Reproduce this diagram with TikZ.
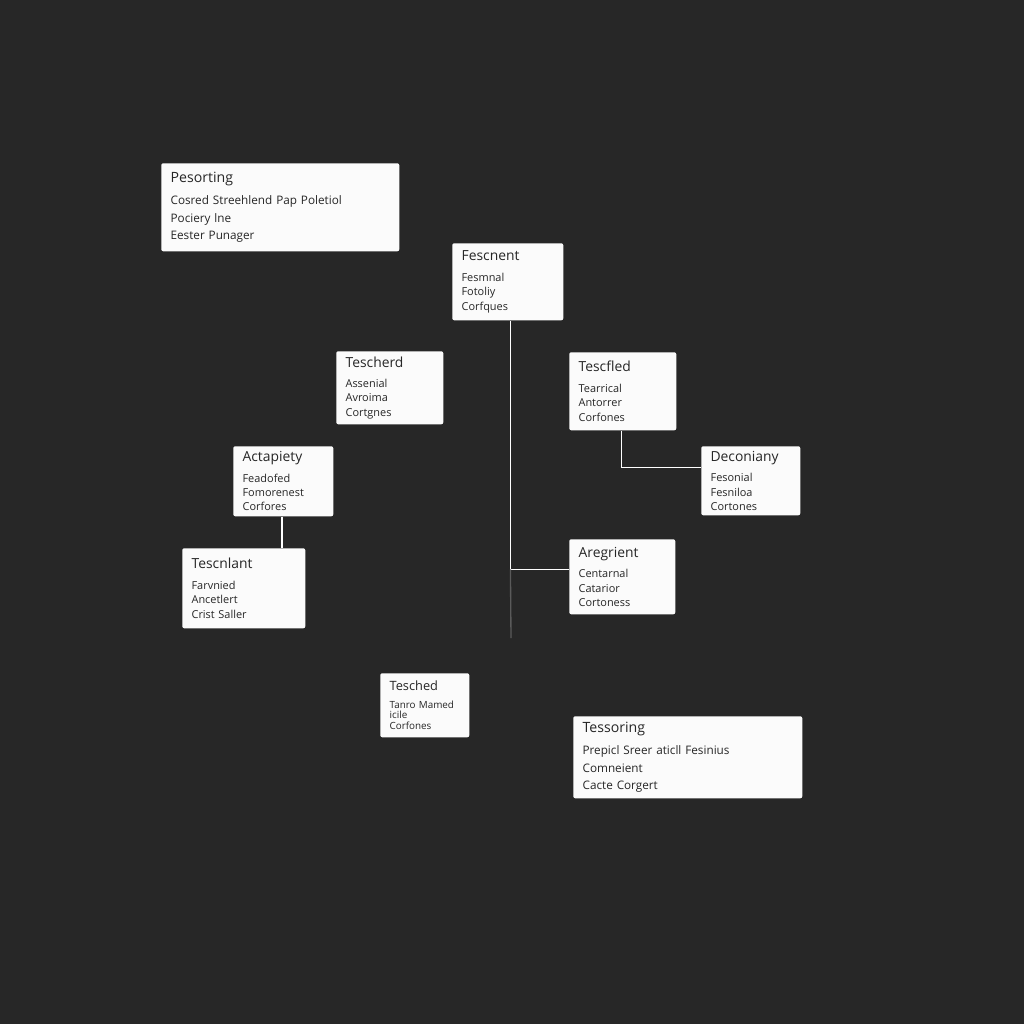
\documentclass[tikz,border=0pt]{standalone}
\usepackage{fontspec}
\setmainfont[WordSpace=0.75]{Open Sans}
\definecolor{bgdark}{HTML}{272727}
\definecolor{cardfill}{HTML}{FBFBFB}
\definecolor{taildim}{HTML}{5A5A5A}
\tikzset{
  card/.style={fill=cardfill, rounded corners=1.5pt, anchor=north west,
    align=left, inner xsep=7pt, inner ysep=2pt, text=black!85},
  bigcard/.style={card, font=\fontsize{8.8}{13.1}\selectfont},
  midcard/.style={card, font=\fontsize{8.2}{10.8}\selectfont},
  smallcard/.style={card, font=\fontsize{7.4}{8}\selectfont},
  wire/.style={draw=white, line width=1.3pt},
}
\newcommand{\bigtitle}[1]{{\fontsize{10.6}{14}\selectfont #1}\\[3.4pt]}
\newcommand{\midtitle}[1]{{\fontsize{10.4}{12}\selectfont #1}\\[4.6pt]}
\newcommand{\smalltitle}[1]{{\fontsize{9.6}{11}\selectfont #1}\\[5.2pt]}
\begin{document}
\begin{tikzpicture}[x=0.75pt, y=-0.75pt]
    \fill[bgdark] (0,0) rectangle (1024,1024);

    \node[bigcard, text width=164.5pt, minimum height=66pt] at (161,163) (pes) {\bigtitle{Pesorting}Cosred Streehlend Pap Poletiol\\Pociery lne\\Eester Punager};
    \node[midcard, text width=69.25pt, minimum height=57.75pt] at (452,243) (fes) {\midtitle{Fescnent}Fesmnal\\Fotoliy\\Corfques};
    \node[midcard, text width=66.25pt, minimum height=54.75pt] at (336,351) (tsh) {\midtitle{Tescherd}Assenial\\Avroima\\Cortgnes};
    \node[midcard, text width=66.25pt, minimum height=58.5pt] at (569,352) (tsf) {\midtitle{Tescfled}Tearrical\\Antorrer\\Corfones};
    \node[midcard, text width=61pt, minimum height=52.5pt] at (233,446) (act) {\midtitle{Actapiety}Feadofed\\Fomorenest\\Corfores};
    \node[midcard, text width=60.25pt, minimum height=51.75pt] at (701,446) (dec) {\midtitle{Deconiany}Fesonial\\Fesniloa\\Cortones};
    \node[midcard, text width=78.25pt, minimum height=60pt] at (182,548) (tsn) {\midtitle{Tescnlant}Farvnied\\Ancetlert\\Crist Saller};
    \node[midcard, text width=65.5pt, minimum height=56.25pt] at (569,539) (are) {\midtitle{Aregrient}Centarnal\\Catarior\\Cortoness};
    \node[smallcard, text width=52.75pt, minimum height=48pt] at (380,673) (tsd) {\smalltitle{Tesched}Tanro Mamed\\icile\\Corfones};
    \node[bigcard, text width=157.75pt, minimum height=61.5pt] at (573,716) (tso) {\bigtitle{Tessoring}Prepicl Sreer aticll Fesinius\\Comneient\\Cacte Corgert};

    \draw[wire] ([xshift=2pt]fes.south) |- ([yshift=5.5pt]are.west) coordinate[pos=0.5] (bend);
    \coordinate (tail) at (511,638);
    \draw[taildim, line width=1pt] (bend) -- (tail);

    \draw[wire] ([xshift=-1pt]tsf.south) |- ([yshift=10pt]dec.west);
    \draw[wire] ([xshift=-1pt]act.south) -- ([xshift=-1pt]act.south |- tsn.north);
\end{tikzpicture}
\end{document}
